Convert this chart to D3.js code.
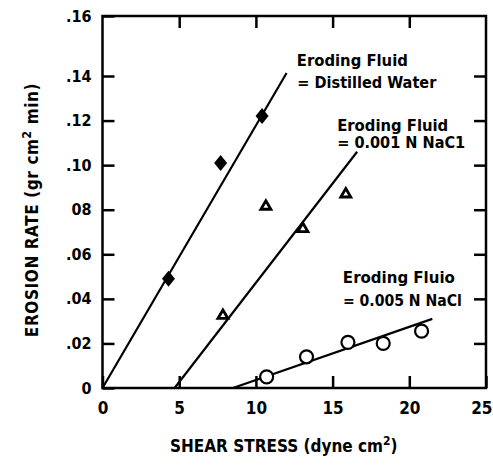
<!DOCTYPE html>
<html>
<head>
<meta charset="utf-8">
<script src="https://cdn.jsdelivr.net/npm/d3@7"></script>
<style>
  body { margin: 0; background: #fff; }
  svg text { font-family: "DejaVu Sans Condensed", "DejaVu Sans", sans-serif; font-weight: bold; fill: #000; }
</style>
</head>
<body>
<svg id="chart"></svg>
<script>
// tick values and labels as printed on the figure
const xTicks = [0, 5, 10, 15, 20, 25];
const yTicks = [0, 0.02, 0.04, 0.06, 0.08, 0.10, 0.12, 0.14, 0.16];
const yTickLabels = ["0", ".02", ".04", ".06", "08", ".10", ".12", ".14", ".16"];

// measured points (shear stress, erosion rate)
const waterX = [4.3, 7.7, 10.4];
const waterY = [0.049, 0.101, 0.122];
const nacl001X = [7.85, 10.65, 13.06, 15.86];
const nacl001Y = [0.033, 0.082, 0.072, 0.0875];
const nacl005X = [10.7, 13.3, 16.0, 18.3, 20.8];
const nacl005Y = [0.005, 0.014, 0.0205, 0.020, 0.0255];

// fitted lines, end points
const waterFitX = [0, 12.0],   waterFitY = [0, 0.141];
const nacl001FitX = [4.7, 16.6], nacl001FitY = [0, 0.106];
const nacl005FitX = [8.5, 21.5], nacl005FitY = [0, 0.031];

const W = 493, H = 467;
const margin = {top: 16, right: 7, bottom: 79, left: 102.5};

const svg = d3.select("#chart").attr("width", W).attr("height", H);

const x = d3.scaleLinear().domain([0, 25]).range([margin.left, W - margin.right]);
// the scanned figure has the top interval stretched, so the scale is piecewise
const y = d3.scaleLinear().domain([0, 0.14, 0.16]).range([H - margin.bottom, 76, margin.top]);

const zip = (a, b) => a.map((v, i) => [v, b[i]]);

// axes, ticks pointing inward
const gx = svg.append("g").attr("transform", `translate(0,${y(0)})`)
  .call(d3.axisBottom(x).tickValues(xTicks).tickSizeInner(-12).tickSizeOuter(0).tickPadding(14));
gx.selectAll("text").style("font-size", "17px")
  .filter(d => d === 25).attr("text-anchor", "end").attr("x", 6);

const gy = svg.append("g").attr("transform", `translate(${x(0)},0)`)
  .call(d3.axisLeft(y).tickValues(yTicks).tickFormat((d, i) => yTickLabels[i])
    .tickSizeInner(-12).tickSizeOuter(0).tickPadding(11));
gy.selectAll("text").style("font-size", "16px");

svg.append("g").attr("transform", `translate(0,${y(0.16)})`)
  .call(d3.axisTop(x).tickValues(xTicks.slice(1, -1)).tickSizeInner(-12).tickSizeOuter(0).tickFormat(""));
svg.append("g").attr("transform", `translate(${x(25)},0)`)
  .call(d3.axisRight(y).tickValues(yTicks.slice(1, -1)).tickSizeInner(-12).tickSizeOuter(0).tickFormat(""));

svg.selectAll(".domain").remove();
svg.selectAll(".tick line").attr("stroke", "#000").attr("stroke-width", 2.5);

svg.append("rect")
  .attr("x", x(0)).attr("y", y(0.16))
  .attr("width", x(25) - x(0)).attr("height", y(0) - y(0.16))
  .attr("fill", "none").attr("stroke", "#000").attr("stroke-width", 2.5);

// fit lines
const line = d3.line().x(d => x(d[0])).y(d => y(d[1]));
[[waterFitX, waterFitY], [nacl001FitX, nacl001FitY], [nacl005FitX, nacl005FitY]].forEach(f => {
  svg.append("path").datum(zip(f[0], f[1]))
    .attr("d", line).attr("fill", "none").attr("stroke", "#000").attr("stroke-width", 2.2);
});

// markers
svg.selectAll(".diamond").data(zip(waterX, waterY)).enter().append("path")
  .attr("class", "diamond")
  .attr("d", "M0,-8L6.5,0L0,8L-6.5,0Z")
  .attr("transform", d => `translate(${x(d[0])},${y(d[1])})`)
  .attr("fill", "#000");

svg.selectAll(".tri").data(zip(nacl001X, nacl001Y)).enter().append("path")
  .attr("class", "tri")
  .attr("d", "M0,-4.5L5,4L-5,4Z")
  .attr("transform", d => `translate(${x(d[0])},${y(d[1])})`)
  .attr("fill", "#fff").attr("stroke", "#000").attr("stroke-width", 2.8);

svg.selectAll(".circ").data(zip(nacl005X, nacl005Y)).enter().append("circle")
  .attr("class", "circ")
  .attr("cx", d => x(d[0])).attr("cy", d => y(d[1])).attr("r", 6.5)
  .attr("fill", "#fff").attr("stroke", "#000").attr("stroke-width", 2.2);

// annotations
function label(tx, ty, str, len) {
  svg.append("text").attr("x", x(tx)).attr("y", y(ty))
    .attr("textLength", len).attr("lengthAdjust", "spacingAndGlyphs")
    .style("font-size", "16px").text(str);
}
label(12.67, 0.1432, "Eroding  Fluid", 111);
label(12.7, 0.1348, "= Distilled Water", 139);
label(15.3, 0.1154, "Eroding  Fluid", 111);
label(15.3, 0.1077, "= 0.001 N  NaC1", 128);
label(15.67, 0.0471, "Eroding  Fluio", 112);
label(15.67, 0.0368, "= 0.005 N NaCl", 119);

// axis titles
const xt = svg.append("text").attr("x", 170).attr("y", 452).style("font-size", "17px");
xt.append("tspan").text("SHEAR STRESS (dyne cm");
xt.append("tspan").attr("dy", -7).style("font-size", "12px").text("2");
xt.append("tspan").attr("dy", 7).text(")");

const yt = svg.append("text").attr("transform", "translate(38,210) rotate(-90)")
  .attr("text-anchor", "middle").style("font-size", "17px").style("letter-spacing", "0.6px");
yt.append("tspan").text("EROSION RATE (gr cm");
yt.append("tspan").attr("dy", -7).style("font-size", "12px").text("2");
yt.append("tspan").attr("dy", 7).text(" min)");
</script>
</body>
</html>
